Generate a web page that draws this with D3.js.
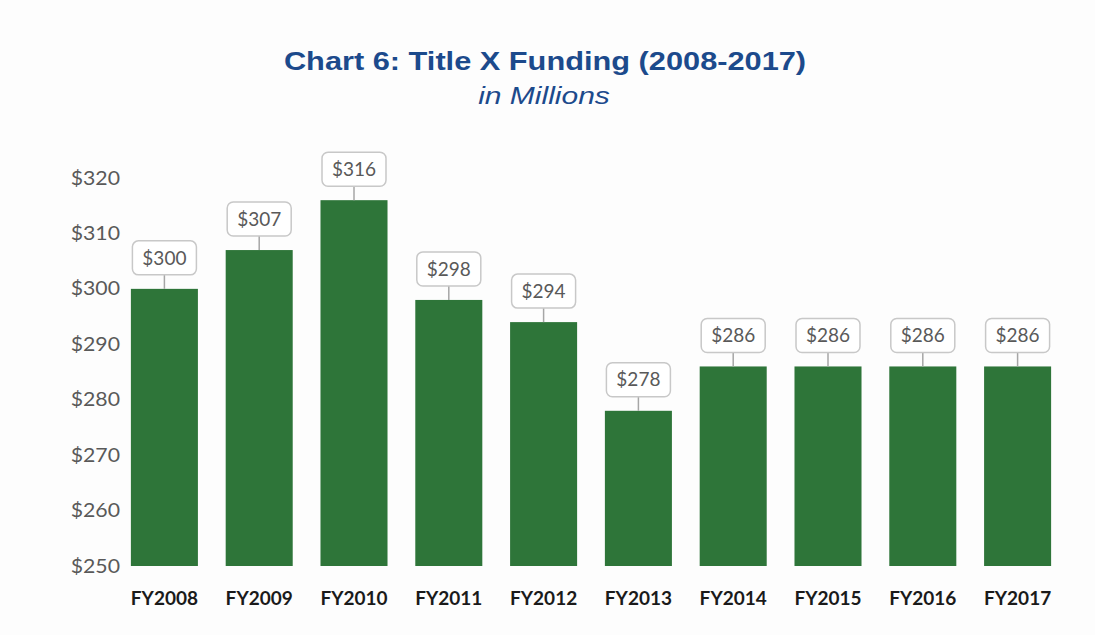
<!DOCTYPE html>
<html>
<head>
<meta charset="utf-8">
<script src="https://cdn.jsdelivr.net/npm/d3@7"></script>
<style>
  html, body { margin: 0; padding: 0; background: #fff; }
  svg { display: block; }
</style>
</head>
<body>
<div id="chart"></div>
<script>
// values, $ millions
const years = ["FY2008", "FY2009", "FY2010", "FY2011", "FY2012", "FY2013", "FY2014", "FY2015", "FY2016", "FY2017"];
const funding = [300, 307, 316, 298, 294, 278, 286, 286, 286, 286];
const yTicks = [250, 260, 270, 280, 290, 300, 310, 320];

const width = 1095, height = 635;
const svg = d3.select("#chart").append("svg")
  .attr("width", width)
  .attr("height", height);

svg.append("rect").attr("width", width).attr("height", height).attr("fill", "#fdfdfd");

// title (the scan is a bit stretched sideways, so widen the text to match)
svg.append("text")
  .attr("transform", "translate(545,70) scale(1.23,1)")
  .attr("text-anchor", "middle")
  .attr("font-family", "Liberation Sans, Arial, sans-serif")
  .attr("font-weight", "bold")
  .attr("font-size", 25)
  .attr("fill", "#1c4a8c")
  .text("Chart 6: Title X Funding (2008-2017)");

svg.append("text")
  .attr("transform", "translate(544,104) scale(1.25,1)")
  .attr("text-anchor", "middle")
  .attr("font-family", "Liberation Sans, Arial, sans-serif")
  .attr("font-style", "italic")
  .attr("font-size", 24)
  .attr("fill", "#1c4a8c")
  .text("in Millions");

const x = d3.scaleBand()
  .domain(years)
  .range([117, 1065])
  .paddingInner(0.293)
  .paddingOuter(0.1465);

const y = d3.scaleLinear()
  .domain([250, 320])
  .range([566, 178]);

// y axis, labels only
const yAxis = svg.append("g")
  .attr("transform", "translate(120,0)")
  .call(d3.axisLeft(y).tickValues(yTicks).tickSize(0).tickPadding(0).tickFormat(d => "$" + d));
yAxis.select(".domain").remove();
yAxis.selectAll("text")
  .attr("font-family", "Lato, sans-serif")
  .attr("font-size", 19)
  .attr("transform", "scale(1.12,1)")
  .attr("fill", "#595959");

// x axis labels
const xAxis = svg.append("g")
  .attr("transform", "translate(0,584)")
  .call(d3.axisBottom(x).tickSize(0).tickPadding(8));
xAxis.select(".domain").remove();
xAxis.selectAll("text")
  .attr("font-family", "Lato, sans-serif")
  .attr("font-weight", "bold")
  .attr("font-size", 19)
  .attr("fill", "#1a1a1a");

// bars
svg.append("g").selectAll("rect")
  .data(funding)
  .join("rect")
  .attr("x", (d, i) => x(years[i]))
  .attr("y", d => y(d))
  .attr("width", x.bandwidth())
  .attr("height", d => y(250) - y(d))
  .attr("fill", "#2e7539");

// data callouts
const boxW = 64, boxH = 34, gap = 14;
const labels = svg.append("g").selectAll("g")
  .data(funding)
  .join("g")
  .attr("transform", (d, i) => `translate(${x(years[i]) + x.bandwidth() / 2},${y(d)})`);

labels.append("line")
  .attr("x1", 0).attr("x2", 0)
  .attr("y1", -gap).attr("y2", 0)
  .attr("stroke", "#a6a6a6")
  .attr("stroke-width", 1.5);

labels.append("rect")
  .attr("x", -boxW / 2)
  .attr("y", -gap - boxH)
  .attr("width", boxW)
  .attr("height", boxH)
  .attr("rx", 6)
  .attr("fill", "#fff")
  .attr("stroke", "#c8c8c8")
  .attr("stroke-width", 1.5);

labels.append("text")
  .attr("x", 0)
  .attr("y", -gap - boxH / 2)
  .attr("dy", "0.35em")
  .attr("text-anchor", "middle")
  .attr("font-family", "Lato, sans-serif")
  .attr("font-size", 19)
  .attr("fill", "#595959")
  .text(d => "$" + d);
</script>
</body>
</html>
